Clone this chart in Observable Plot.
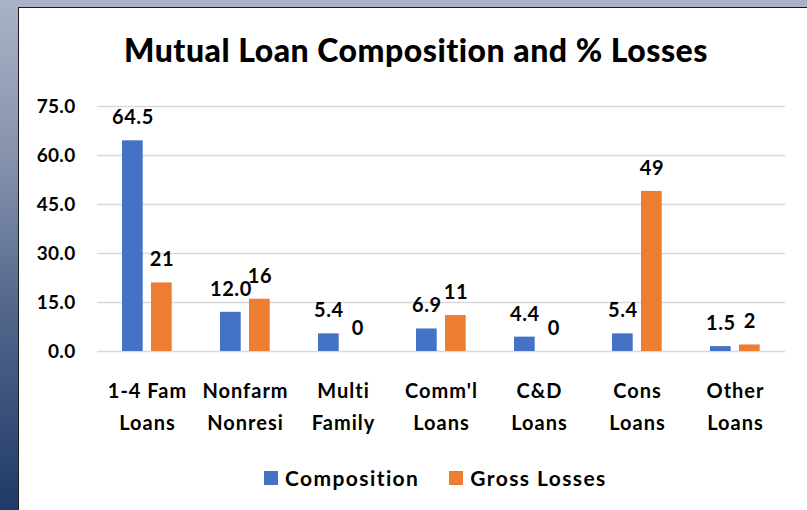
<!DOCTYPE html>
<html><head><meta charset="utf-8">
<script src="https://cdn.jsdelivr.net/npm/d3@7"></script>
<script src="https://cdn.jsdelivr.net/npm/@observablehq/plot@0.6"></script>
<style>
html,body{margin:0;padding:0;width:807px;height:510px;overflow:hidden;}
body{position:relative;font-family:Lato,sans-serif;background:linear-gradient(to bottom,#aab2c7 0%,#8793ad 30%,#51658a 62%,#203a69 100%);}
#panel{position:absolute;left:18px;top:7px;width:820px;height:520px;background:#fff;border-left:1.5px solid #1a1a1a;border-top:1.5px solid #1a1a1a;}
#title{position:absolute;left:18px;width:796px;top:33px;line-height:34px;text-align:center;font-weight:900;font-size:32px;letter-spacing:0.5px;color:#000;}
#chart{position:absolute;left:0;top:0;}
#legend{position:absolute;left:264px;top:466px;display:flex;align-items:center;font-weight:bold;font-size:21px;letter-spacing:1.4px;color:#000;line-height:24px;}
#legend .sw{width:14px;height:14px;display:inline-block;margin-right:7px;}
#legend .item{display:flex;align-items:center;margin-right:30px;}
#chart g[aria-label="x-axis tick label"] text{letter-spacing:1px;}
#chart g[aria-label="y-axis tick label"] text{letter-spacing:0.3px;}
#chart g[aria-label="text"] text{letter-spacing:0.6px;}
</style>
</head><body>
<div id="panel"></div>
<div id="chart"></div>
<div id="title">Mutual Loan Composition and % Losses</div>
<div id="legend"></div>
<script>
const categories = ["1-4 Fam\nLoans", "Nonfarm\nNonresi", "Multi\nFamily", "Comm'l\nLoans", "C&D\nLoans", "Cons\nLoans", "Other\nLoans"];
const composition = [64.5, 12.0, 5.4, 6.9, 4.4, 5.4, 1.5];
const grossLosses = [21, 16, 0, 11, 0, 49, 2];
const yTicks = [0, 15, 30, 45, 60, 75];
const seriesNames = ["Composition", "Gross Losses"];
const seriesColors = ["#4472C4", "#ED7D31"];

const comp = categories.map((c, i) => ({cat: c, value: composition[i]}));
const loss = categories.map((c, i) => ({cat: c, value: grossLosses[i]}));

const chart = Plot.plot({
  width: 807, height: 510,
  marginLeft: 97, marginRight: 22, marginTop: 106, marginBottom: 159,
  style: {background: "transparent", fontFamily: "Lato, sans-serif", fontSize: "19px", fontWeight: "bold", color: "#000", overflow: "visible"},
  x: {domain: categories, padding: 0},
  y: {domain: [0, 75]},
  marks: [
    Plot.gridY(yTicks, {stroke: "#d9d9d9", strokeOpacity: 1, strokeWidth: 1.5}),
    Plot.axisY(yTicks, {tickSize: 0, tickPadding: 22, tickFormat: d3.format(".1f"), label: null, fontSize: 19}),
    Plot.axisX({tickSize: 0, tickPadding: 24, label: null, lineHeight: 1.6, fontSize: 20}),
    Plot.barY(comp, {x: "cat", y: "value", fill: seriesColors[0], insetLeft: 24, insetRight: 53.3}),
    Plot.barY(loss, {x: "cat", y: "value", fill: seriesColors[1], insetLeft: 53, insetRight: 24.3}),
    Plot.text(comp, {x: "cat", y: "value", text: d => d3.format(".1f")(d.value), dx: -14.6, dy: -23, fontSize: 20}),
    Plot.text(loss, {x: "cat", y: "value", text: d => String(d.value), dx: 14.4, dy: -23, fontSize: 20})
  ]
});
document.getElementById("chart").appendChild(chart);

const legend = document.getElementById("legend");
seriesNames.forEach((name, i) => {
  const item = document.createElement("span");
  item.className = "item";
  const sw = document.createElement("span");
  sw.className = "sw";
  sw.style.background = seriesColors[i];
  item.appendChild(sw);
  item.appendChild(document.createTextNode(name));
  legend.appendChild(item);
});
</script>
</body></html>
